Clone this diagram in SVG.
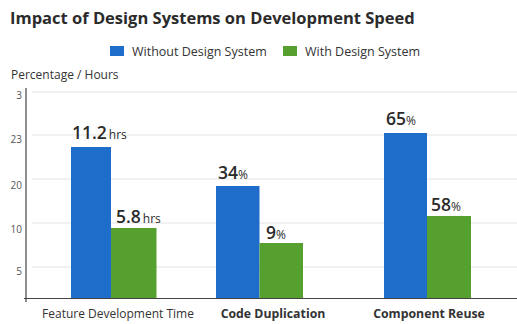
<svg xmlns="http://www.w3.org/2000/svg" width="517" height="324" viewBox="0 0 517 324">
  <style>
    text { font-family: "Open Sans", "Noto Sans", "Liberation Sans", sans-serif; }
    .title { font-size: 16.5px; font-weight: 700; fill: #2b2b2b; }
    .legend { font-size: 12.5px; fill: #333; }
    .axis-title { font-size: 12px; fill: #333; }
    .tick { font-size: 10px; fill: #555; text-anchor: end; }
    .grid { stroke: #e3e3e3; stroke-width: 1; }
    .axis { stroke: #444; stroke-width: 1.2; }
    .blue { fill: #1f6dcb; }
    .green { fill: #56a02f; }
    .val { font-size: 17.5px; font-weight: 600; fill: #2b2b2b; }
    .unit { font-size: 12px; font-weight: 400; }
    .cat { font-size: 12px; fill: #333; text-anchor: middle; }
    .cat-b { font-size: 12.3px; font-weight: 700; }
  </style>

  <rect width="517" height="324" fill="#ffffff"/>

  <text class="title" x="10" y="24">Impact of Design Systems on Development Speed</text>

  <g id="legend">
    <rect class="blue" x="110" y="46" width="14" height="10"/>
    <text class="legend" x="132" y="56">Without Design System</text>
    <rect class="green" x="283" y="46" width="14" height="10"/>
    <text class="legend" x="305" y="56">With Design System</text>
  </g>

  <text class="axis-title" x="11" y="79">Percentage / Hours</text>

  <g id="grid">
    <line class="grid" x1="32" y1="92" x2="517" y2="92"/>
    <line class="grid" x1="32" y1="135" x2="517" y2="135"/>
    <line class="grid" x1="32" y1="179" x2="517" y2="179"/>
    <line class="grid" x1="32" y1="223" x2="517" y2="223"/>
    <line class="grid" x1="32" y1="267" x2="517" y2="267"/>
  </g>

  <g id="ticks">
    <text class="tick" x="22" y="99">3</text>
    <text class="tick" x="22" y="143">23</text>
    <text class="tick" x="22" y="189">20</text>
    <text class="tick" x="22" y="233">10</text>
    <text class="tick" x="22" y="275">5</text>
  </g>

  <g id="feature-development-time">
    <rect class="blue" x="71" y="147" width="40" height="151"/>
    <rect class="green" x="111" y="228" width="45.5" height="70"/>
    <text class="val" x="72" y="139">11.2<tspan class="unit" dx="2">hrs</tspan></text>
    <text class="val" x="116" y="223">5.8<tspan class="unit" dx="2">hrs</tspan></text>
    <text class="cat" x="118" y="318">Feature Development Time</text>
  </g>

  <g id="code-duplication">
    <rect class="blue" x="216" y="186" width="43.5" height="112"/>
    <rect class="green" x="259.5" y="243" width="43.5" height="55"/>
    <text class="val" x="218" y="179">34<tspan class="unit">%</tspan></text>
    <text class="val" x="266" y="239">9<tspan class="unit">%</tspan></text>
    <text class="cat cat-b" x="273" y="318">Code Duplication</text>
  </g>

  <g id="component-reuse">
    <rect class="blue" x="384" y="133" width="43" height="165"/>
    <rect class="green" x="427" y="216" width="44" height="82"/>
    <text class="val" x="386" y="125">65<tspan class="unit">%</tspan></text>
    <text class="val" x="431" y="211">58<tspan class="unit">%</tspan></text>
    <text class="cat cat-b" x="429" y="318">Component Reuse</text>
  </g>

  <g id="axes">
    <line class="axis" x1="26" y1="88" x2="26" y2="302"/>
    <line class="axis" x1="24" y1="298.5" x2="517" y2="298.5"/>
  </g>
</svg>
